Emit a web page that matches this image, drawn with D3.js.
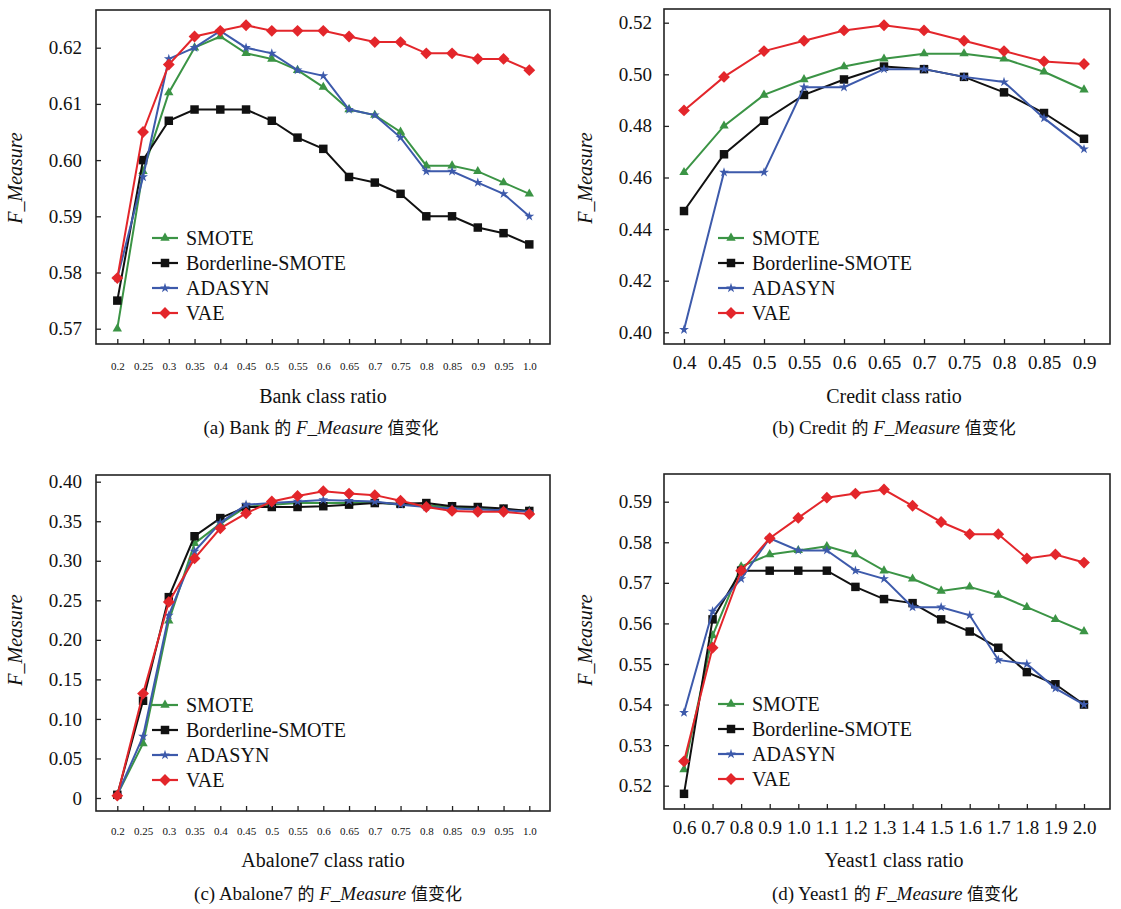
<!DOCTYPE html>
<html>
<head>
<meta charset="utf-8">
<script src="https://cdn.jsdelivr.net/npm/d3@7/dist/d3.min.js"></script>
<style>
  html, body { margin: 0; padding: 0; background: #fff; }
  svg { display: block; }
  text { font-family: "Liberation Serif", Tinos, "Times New Roman", Times, "DejaVu Serif", serif; fill: #111; }
  .cjk { font-family: "Noto Sans CJK SC", "Noto Sans CJK TC", sans-serif; }
</style>
</head>
<body>
<svg id="chart" width="1121" height="909"></svg>
<script>
// ---------------- DATA ----------------
const seriesNames = ["SMOTE", "Borderline-SMOTE", "ADASYN", "VAE"];

// (a) Bank
const bankRatios = [0.2,0.25,0.3,0.35,0.4,0.45,0.5,0.55,0.6,0.65,0.7,0.75,0.8,0.85,0.9,0.95,1.0];
const bankXLabels = ["0.2","0.25","0.3","0.35","0.4","0.45","0.5","0.55","0.6","0.65","0.7","0.75","0.8","0.85","0.9","0.95","1.0"];
const bankYTicks = [0.57,0.58,0.59,0.60,0.61,0.62];
const bankYLabels = ["0.57","0.58","0.59","0.60","0.61","0.62"];
const bankSMOTE      = [0.570,0.598,0.612,0.620,0.622,0.619,0.618,0.616,0.613,0.609,0.608,0.605,0.599,0.599,0.598,0.596,0.594];
const bankBorderline = [0.575,0.600,0.607,0.609,0.609,0.609,0.607,0.604,0.602,0.597,0.596,0.594,0.590,0.590,0.588,0.587,0.585];
const bankADASYN     = [0.579,0.597,0.618,0.620,0.623,0.620,0.619,0.616,0.615,0.609,0.608,0.604,0.598,0.598,0.596,0.594,0.590];
const bankVAE        = [0.579,0.605,0.617,0.622,0.623,0.624,0.623,0.623,0.623,0.622,0.621,0.621,0.619,0.619,0.618,0.618,0.616];

// (b) Credit
const creditRatios = [0.4,0.45,0.5,0.55,0.6,0.65,0.7,0.75,0.8,0.85,0.9];
const creditXLabels = ["0.4","0.45","0.5","0.55","0.6","0.65","0.7","0.75","0.8","0.85","0.9"];
const creditYTicks = [0.40,0.42,0.44,0.46,0.48,0.50,0.52];
const creditYLabels = ["0.40","0.42","0.44","0.46","0.48","0.50","0.52"];
const creditSMOTE      = [0.462,0.480,0.492,0.498,0.503,0.506,0.508,0.508,0.506,0.501,0.494];
const creditBorderline = [0.447,0.469,0.482,0.492,0.498,0.503,0.502,0.499,0.493,0.485,0.475];
const creditADASYN     = [0.401,0.462,0.462,0.495,0.495,0.502,0.502,0.499,0.497,0.483,0.471];
const creditVAE        = [0.486,0.499,0.509,0.513,0.517,0.519,0.517,0.513,0.509,0.505,0.504];

// (c) Abalone7
const abaloneRatios = [0.2,0.25,0.3,0.35,0.4,0.45,0.5,0.55,0.6,0.65,0.7,0.75,0.8,0.85,0.9,0.95,1.0];
const abaloneXLabels = ["0.2","0.25","0.3","0.35","0.4","0.45","0.5","0.55","0.6","0.65","0.7","0.75","0.8","0.85","0.9","0.95","1.0"];
const abaloneYTicks = [0,0.05,0.10,0.15,0.20,0.25,0.30,0.35,0.40];
const abaloneYLabels = ["0","0.05","0.10","0.15","0.20","0.25","0.30","0.35","0.40"];
const abaloneSMOTE      = [0.004,0.069,0.224,0.322,0.347,0.368,0.371,0.373,0.373,0.373,0.374,0.371,0.370,0.368,0.366,0.365,0.363];
const abaloneBorderline = [0.004,0.123,0.254,0.331,0.354,0.368,0.368,0.368,0.369,0.371,0.373,0.372,0.373,0.369,0.368,0.366,0.363];
const abaloneADASYN     = [0.004,0.078,0.231,0.312,0.348,0.371,0.373,0.375,0.377,0.376,0.375,0.371,0.368,0.366,0.365,0.364,0.362];
const abaloneVAE        = [0.003,0.132,0.248,0.303,0.341,0.360,0.375,0.382,0.388,0.385,0.383,0.376,0.368,0.363,0.362,0.362,0.359];

// (d) Yeast1
const yeastRatios = [0.6,0.7,0.8,0.9,1.0,1.1,1.2,1.3,1.4,1.5,1.6,1.7,1.8,1.9,2.0];
const yeastXLabels = ["0.6","0.7","0.8","0.9","1.0","1.1","1.2","1.3","1.4","1.5","1.6","1.7","1.8","1.9","2.0"];
const yeastYTicks = [0.52,0.53,0.54,0.55,0.56,0.57,0.58,0.59];
const yeastYLabels = ["0.52","0.53","0.54","0.55","0.56","0.57","0.58","0.59"];
const yeastSMOTE      = [0.524,0.557,0.574,0.577,0.578,0.579,0.577,0.573,0.571,0.568,0.569,0.567,0.564,0.561,0.558];
const yeastBorderline = [0.518,0.561,0.573,0.573,0.573,0.573,0.569,0.566,0.565,0.561,0.558,0.554,0.548,0.545,0.540];
const yeastADASYN     = [0.538,0.563,0.571,0.581,0.578,0.578,0.573,0.571,0.564,0.564,0.562,0.551,0.550,0.544,0.540];
const yeastVAE        = [0.526,0.554,0.573,0.581,0.586,0.591,0.592,0.593,0.589,0.585,0.582,0.582,0.576,0.577,0.575];

// ---------------- STYLE ----------------
const colors = { "SMOTE": "#3b9445", "Borderline-SMOTE": "#111111", "ADASYN": "#3d5aab", "VAE": "#e3262b" };
const serifFont = '"Liberation Serif", Tinos, "Times New Roman", Times, "DejaVu Serif", serif';

const svg = d3.select("#chart");

function marker(name) {
  if (name === "SMOTE") return { path: d3.symbol().type(d3.symbolTriangle).size(38)(), rot: 0 };
  if (name === "Borderline-SMOTE") return { path: d3.symbol().type(d3.symbolSquare).size(72)(), rot: 0 };
  if (name === "ADASYN") return { path: d3.symbol().type(d3.symbolStar).size(30)(), rot: 0 };
  return { path: d3.symbol().type(d3.symbolSquare).size(70)(), rot: 45 };
}

function panel(cfg) {
  const g = svg.append("g");
  const x = d3.scaleLinear().domain([cfg.xs[0], cfg.xs[cfg.xs.length-1]]).range([cfg.xr0, cfg.xr1]);
  const y = d3.scaleLinear().domain([cfg.yTicks[0], cfg.yTicks[cfg.yTicks.length-1]]).range([cfg.yr0, cfg.yr1]);

  // y axis (ticks inward)
  const yAxis = d3.axisLeft(y).tickValues(cfg.yTicks).tickSizeInner(-5).tickSizeOuter(0)
    .tickPadding(14).tickFormat((d,i) => cfg.yLabels[i]);
  const ya = g.append("g").attr("transform", `translate(${cfg.bx0},0)`).call(yAxis)
    .attr("font-family", null);
  ya.select(".domain").remove();
  ya.selectAll(".tick line").attr("stroke", "#222").attr("stroke-width", 1.3);
  ya.selectAll(".tick text").attr("font-size", 19).attr("fill", "#111")
    .style("font-family", serifFont).attr("dx", cfg.yLabelDx || 0);

  // x axis (ticks inward)
  const xAxis = d3.axisBottom(x).tickValues(cfg.xs).tickSizeInner(-5).tickSizeOuter(0)
    .tickPadding(cfg.xPad).tickFormat((d,i) => cfg.xLabels[i]);
  const xa = g.append("g").attr("transform", `translate(0,${cfg.by1})`).call(xAxis)
    .attr("font-family", null);
  xa.select(".domain").remove();
  xa.selectAll(".tick line").attr("stroke", "#222").attr("stroke-width", 1.3);
  xa.selectAll(".tick text").attr("font-size", cfg.xFont).attr("fill", "#111")
    .style("font-family", serifFont);

  // frame
  g.append("rect").attr("x", cfg.bx0).attr("y", cfg.by0)
    .attr("width", cfg.bx1 - cfg.bx0).attr("height", cfg.by1 - cfg.by0)
    .attr("fill", "none").attr("stroke", "#222").attr("stroke-width", 1.6);

  // series
  const line = d3.line().x(d => x(d[0])).y(d => y(d[1]));
  seriesNames.forEach((name, si) => {
    const vals = cfg.series[si];
    const pts = cfg.xs.map((xv, i) => [xv, vals[i]]);
    g.append("path").datum(pts).attr("d", line).attr("fill", "none")
      .attr("stroke", colors[name]).attr("stroke-width", 2);
    const m = marker(name);
    g.selectAll(null).data(pts).enter().append("path")
      .attr("d", m.path)
      .attr("transform", d => `translate(${x(d[0])},${y(d[1])}) rotate(${m.rot})`)
      .attr("fill", colors[name]);
  });

  // legend
  seriesNames.forEach((name, i) => {
    const ly = cfg.legY + i * 25;
    g.append("line").attr("x1", cfg.legX).attr("x2", cfg.legX + 26)
      .attr("y1", ly).attr("y2", ly).attr("stroke", colors[name]).attr("stroke-width", 2.2);
    const m = marker(name);
    g.append("path").attr("d", m.path)
      .attr("transform", `translate(${cfg.legX + 13},${ly}) rotate(${m.rot})`)
      .attr("fill", colors[name]);
    g.append("text").attr("x", cfg.legX + 34).attr("y", ly).attr("dy", "0.35em")
      .attr("font-size", 20).text(name);
  });

  // y title
  g.append("text")
    .attr("transform", `translate(${cfg.yTitleX},${cfg.yTitleY}) rotate(-90)`)
    .attr("text-anchor", "middle").attr("font-size", 20).attr("font-style", "italic")
    .text("F_Measure");

  // x title
  g.append("text").attr("x", cfg.cx).attr("y", cfg.xTitleY).attr("dy", "0.35em")
    .attr("text-anchor", "middle").attr("font-size", 20).text(cfg.xTitle);

  // caption
  const cap = g.append("text").attr("x", cfg.capX).attr("y", cfg.capY).attr("dy", "0.35em")
    .attr("text-anchor", "middle").attr("font-size", 19);
  cap.append("tspan").text(cfg.capPre + " ");
  cap.append("tspan").attr("class", "cjk").attr("font-size", 17).text("的");
  cap.append("tspan").text(" ");
  cap.append("tspan").attr("font-style", "italic").text("F_Measure");
  cap.append("tspan").text(" ");
  cap.append("tspan").attr("class", "cjk").attr("font-size", 17).text("值变化");
}

panel({
  xs: bankRatios, xLabels: bankXLabels, yTicks: bankYTicks, yLabels: bankYLabels,
  series: [bankSMOTE, bankBorderline, bankADASYN, bankVAE],
  bx0: 96, bx1: 550, by0: 10, by1: 344,
  xr0: 117.3, xr1: 529.3, yr0: 328.7, yr1: 47.7,
  xFont: 11, xPad: 18,
  legX: 152, legY: 238,
  yTitleX: 22, yTitleY: 178,
  cx: 323, xTitle: "Bank class ratio", xTitleY: 396,
  capX: 321, capY: 427, capPre: "(a) Bank"
});

panel({
  xs: creditRatios, xLabels: creditXLabels, yTicks: creditYTicks, yLabels: creditYLabels,
  series: [creditSMOTE, creditBorderline, creditADASYN, creditVAE],
  bx0: 664, bx1: 1110, by0: 9, by1: 344,
  xr0: 684, xr1: 1084, yr0: 332.3, yr1: 22.7,
  xFont: 19, xPad: 12,
  legX: 718, legY: 238,
  yTitleX: 592, yTitleY: 178, yLabelDx: 2,
  cx: 894, xTitle: "Credit class ratio", xTitleY: 396,
  capX: 894, capY: 427, capPre: "(b) Credit"
});

panel({
  xs: abaloneRatios, xLabels: abaloneXLabels, yTicks: abaloneYTicks, yLabels: abaloneYLabels,
  series: [abaloneSMOTE, abaloneBorderline, abaloneADASYN, abaloneVAE],
  bx0: 96, bx1: 550, by0: 475, by1: 811,
  xr0: 117.3, xr1: 529.3, yr0: 798, yr1: 481.7,
  xFont: 11, xPad: 16,
  legX: 152, legY: 705,
  yTitleX: 22, yTitleY: 640,
  cx: 323, xTitle: "Abalone7 class ratio", xTitleY: 860,
  capX: 328, capY: 893, capPre: "(c) Abalone7"
});

panel({
  xs: yeastRatios, xLabels: yeastXLabels, yTicks: yeastYTicks, yLabels: yeastYLabels,
  series: [yeastSMOTE, yeastBorderline, yeastADASYN, yeastVAE],
  bx0: 664, bx1: 1110, by0: 474, by1: 809,
  xr0: 684, xr1: 1084, yr0: 785.7, yr1: 501.7,
  xFont: 19, xPad: 12,
  legX: 718, legY: 704,
  yTitleX: 592, yTitleY: 640, yLabelDx: 2,
  cx: 894, xTitle: "Yeast1 class ratio", xTitleY: 860,
  capX: 895, capY: 893, capPre: "(d) Yeast1"
});
</script>
</body>
</html>
